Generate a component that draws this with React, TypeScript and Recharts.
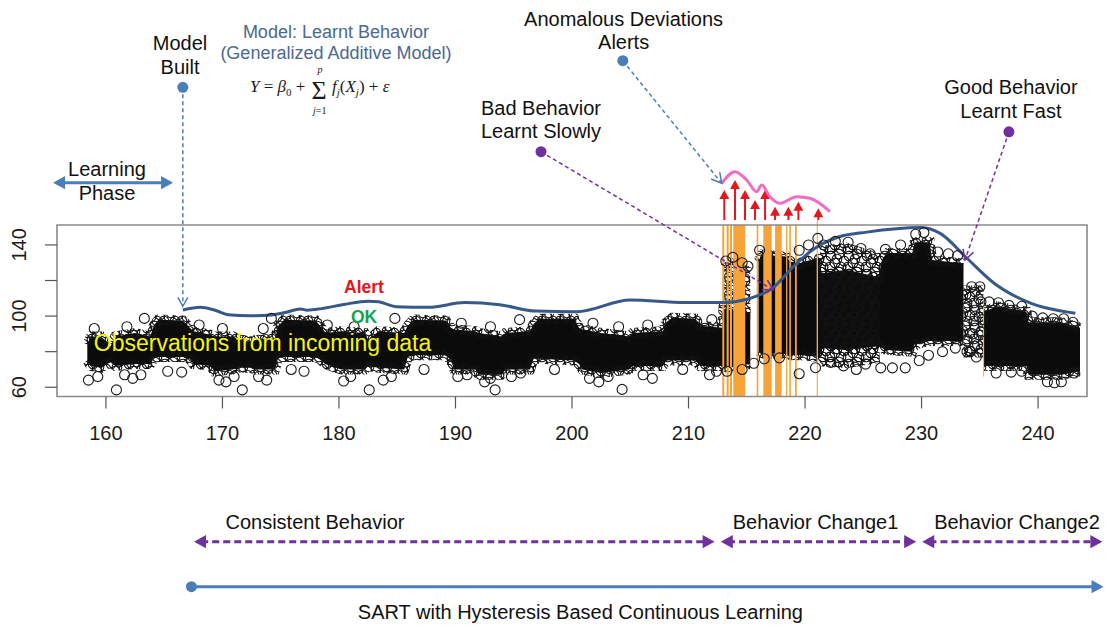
import React from 'react';
import {
  ComposedChart,
  XAxis,
  YAxis,
  Area,
  Line,
  Scatter,
  ReferenceArea,
  ReferenceLine,
  ReferenceDot,
  Curve,
} from 'recharts';

const SANS = '"Liberation Sans", Arial, sans-serif';
const SERIF = '"Liberation Serif", "DejaVu Serif", serif';
const BLUE = '#4a7ebb';
const PURPLE = '#7030a0';

// axes
const xTicks = [160, 170, 180, 190, 200, 210, 220, 230, 240];
const yTicks = [60, 80, 100, 120, 140];
const yLabelled = [60, 100, 140];

// dense observation mass, rows of [x, low, high]
const steadyMass = [
  [158.4, 75, 84], [158.7, 72, 88.5], [159.6, 71, 88.5], [160.1, 73, 85], [160.4, 74, 83],
  [160.8, 72, 88.5], [162.5, 73, 90.5], [163.8, 73, 88.5], [164.1, 76, 94.5], [164.5, 77, 98],
  [166.6, 77, 97.5], [167.2, 76, 93.5], [167.5, 73, 91.5], [169.0, 72, 89.5], [169.3, 69, 88.5],
  [170.9, 70, 88.5], [171.2, 71, 87.5], [172.4, 71, 85.5], [172.8, 70, 86.5], [174.5, 70, 87.5],
  [174.8, 77, 94.5], [175.3, 77, 98], [178.0, 77, 97.5], [178.5, 75, 93.5], [178.8, 73, 90.5],
  [180.2, 70, 91.5], [182.2, 70, 90.5], [182.5, 72, 86.5], [183.4, 71, 91.5], [185.6, 70, 90.5],
  [185.9, 77, 94.5], [186.4, 78, 98], [189.2, 78, 97.5], [189.6, 75, 93.5], [189.9, 70, 92.5],
  [191.7, 70, 91.5], [192.0, 67, 90.5], [193.9, 67, 88.5], [194.3, 70, 90.5], [196.4, 70, 91.5],
  [196.7, 76, 95.5], [197.2, 76, 98.5], [200.2, 75, 98.5], [200.6, 73, 93.5], [200.9, 70, 92.5],
  [202.5, 68, 90.5], [204.9, 70, 88.5], [205.2, 72, 90.5], [207.8, 72, 91.5], [208.1, 75, 96.5],
  [208.6, 75, 99], [210.6, 75, 98.5], [211.0, 72, 94.5], [212.9, 72, 93.5], [213.0, 71, 104],
  [215.3, 73, 102],
];
const change1Mass = [
  [216.0, 80, 130.5], [216.3, 79, 134.5], [218.4, 79, 133.5], [218.6, 78, 131.5], [219.3, 78, 128.5],
  [219.8, 78, 130.5], [221.3, 77, 132.5], [221.4, 82, 124], [223.5, 81, 126], [226.3, 83, 122],
  [226.6, 82, 131.5], [227.0, 81, 135.5], [229.2, 80, 135.5], [229.4, 84, 141.5], [230.7, 86, 141.5],
  [230.9, 86, 131.5], [233.6, 86, 129.5],
];
const change2Mass = [
  [235.3, 72, 102.5], [236.5, 72, 105.5], [239.0, 72, 102.5], [239.2, 67, 96.5], [242.0, 67, 96.5],
  [243.6, 69, 93.5],
];
// looser clouds of circles
const looseT = [[212.95, 100, 127], [213.8, 100, 130], [215.3, 100, 125]];
const looseW = [[221.3, 74, 137], [223.5, 73, 139], [226.4, 76, 133]];
const looseAA = [[233.6, 79, 115], [235.3, 79, 115]];

// single circles around the mass
const strayPoints = [
  [160.9, 58.5], [171.7, 58.5], [182.6, 58.5], [193.4, 58.5], [204.3, 58.8],
  [158.5, 64], [159.3, 66], [161.6, 67], [162.3, 65], [163.0, 67], [165.3, 69], [166.5, 68.5],
  [169.7, 64], [170.3, 63], [171.0, 66], [173.1, 66], [173.8, 64], [175.9, 70], [177.0, 69],
  [180.4, 63.5], [181.0, 66], [183.8, 64], [184.5, 66], [187.3, 70], [190.2, 66], [191.0, 67],
  [192.5, 63], [193.0, 65], [194.8, 66], [195.6, 68], [198.5, 70], [201.5, 65], [202.3, 63],
  [203.1, 66], [206.1, 67], [206.9, 65], [209.5, 70], [211.8, 67], [212.4, 69],
  [159.0, 93], [161.8, 94], [163.3, 98.7], [168.0, 95], [170.0, 93], [173.5, 93], [174.2, 98.7],
  [179.0, 95], [181.3, 94], [184.8, 98.7], [190.5, 96], [193.0, 94], [195.5, 98], [201.8, 96],
  [204.0, 94], [206.5, 95], [212.0, 98],
  [213.2, 131], [213.8, 133], [214.6, 130], [215.1, 128], [216.1, 137], [219.5, 137], [220.3, 140],
  [221.1, 143.7], [221.6, 140], [222.6, 142], [223.7, 141.5], [224.8, 138], [225.6, 135],
  [226.9, 137.5], [228.2, 140], [229.5, 146], [230.2, 147], [231.4, 136], [232.3, 135], [233.1, 134],
  [213.3, 69], [214.6, 70], [215.6, 73.5], [216.5, 76], [217.8, 76.5], [219.5, 67.6], [220.9, 71],
  [222.2, 74], [223.3, 72], [224.4, 70], [225.2, 73], [226.5, 70.9], [227.5, 70.9], [228.6, 70.9],
  [229.8, 75], [230.6, 78], [231.8, 80], [232.9, 82], [233.9, 80], [234.7, 77], [236.4, 68],
  [237.7, 68.5], [238.6, 69], [240.8, 63.1], [241.4, 62.5], [242.0, 63.1], [243.1, 68],
  [233.8, 112], [234.3, 116.5], [235.0, 116.5], [233.9, 105], [234.6, 100], [235.1, 108],
  [233.8, 95], [234.4, 90], [235.2, 98], [233.9, 86], [234.8, 84], [235.1, 91], [234.2, 80],
  [235.8, 108], [236.6, 107.5], [237.5, 106], [238.6, 105.5], [239.5, 100], [240.4, 99],
  [241.3, 98.5], [242.2, 98.5], [243.0, 96.5],
];

// fitted model (GAM) curve
const modelX = [
  166.6, 168.1, 169.3, 170.5, 172.4, 174.2, 175.5, 176.7, 177.3, 178.5, 180.4, 182.5, 183.4, 184.9,
  187.7, 190.8, 193.8, 196.9, 200.4, 205.0, 209.7, 212.9, 215.3, 217.2, 219.0, 220.6, 222.8, 225.3,
  230.0, 231.6, 233.9, 236.2, 239.3, 243.2,
];
const modelY = [
  103.4, 104.9, 103.4, 100.8, 100.2, 100.6, 102.2, 104.0, 103.3, 104.2, 106.5, 108.4, 108.0, 105.3,
  104.9, 107.6, 106.4, 102.8, 102.4, 109.0, 107.6, 107.6, 110.0, 115.6, 127.8, 137.0, 144.3, 147.2,
  149.8, 146.5, 132.5, 118.6, 107.4, 101.6,
];

// anomalous deviations
const alertBands = [
  [212.9, 213.07], [213.27, 213.45], [213.56, 213.73], [213.84, 214.87], [215.85, 215.99],
  [216.42, 217.14], [217.43, 218.0], [218.37, 218.48], [218.65, 218.79], [219.14, 219.29],
];
const alertArrowX = [213.07, 213.99, 214.85, 215.71, 216.57, 217.43, 218.57, 219.43, 221.14];
const alertArrowTop = [170.9, 176.5, 170.9, 165.3, 170.9, 161.5, 161.5, 164.3, 160.6];
const deviationX = [212.85, 213.99, 214.99, 215.85, 216.28, 216.99, 217.85, 219.28, 220.42, 222.14];
const deviationY = [174.6, 181.2, 176.5, 169.9, 173.7, 167.1, 163.4, 167.1, 166.2, 158.7];

// circles of one tile of the "overplotted" texture
const ringTile = [[3, 4], [11, 2], [16, 9], [7, 11], [13, 15], [2, 15], [9, 7]];
const TILE = 18;

const toRange = (rows: number[][]) => rows.map(([x, lo, hi]) => ({ x, range: [lo, hi] }));
const strayData = strayPoints.map(([x, y]) => ({ x, y }));
const modelData = modelX.map((x, i) => ({ x, y: modelY[i] }));

type ArrowOpts = {
  color: string;
  width: number;
  dash?: string;
  start?: 'dot' | 'solid';
  end?: 'open' | 'solid';
  head?: number;
};

const arrowShape = (o: ArrowOpts) => (p: any) => {
  const { x1, y1, x2, y2 } = p;
  const h = o.head ?? 10;
  const a = Math.atan2(y2 - y1, x2 - x1);
  const tip = (tx: number, ty: number, ang: number, kind: string) => {
    const bx = tx - h * Math.cos(ang);
    const by = ty - h * Math.sin(ang);
    const w = h * 0.55;
    const pts = `${bx + w * Math.sin(ang)},${by - w * Math.cos(ang)} ${tx},${ty} ${bx - w * Math.sin(ang)},${by + w * Math.cos(ang)}`;
    if (kind === 'open') return <polyline points={pts} fill="none" stroke={o.color} strokeWidth={1.5} />;
    return <polygon points={pts} fill={o.color} />;
  };
  const cut = h * 0.6;
  const sx = o.start === 'solid' ? x1 + cut * Math.cos(a) : x1;
  const sy = o.start === 'solid' ? y1 + cut * Math.sin(a) : y1;
  const ex = o.end === 'solid' ? x2 - cut * Math.cos(a) : x2;
  const ey = o.end === 'solid' ? y2 - cut * Math.sin(a) : y2;
  return (
    <g>
      <line x1={sx} y1={sy} x2={ex} y2={ey} stroke={o.color} strokeWidth={o.width} strokeDasharray={o.dash} />
      {o.start === 'dot' && <circle cx={x1} cy={y1} r={5.5} fill={o.color} />}
      {o.start === 'solid' && tip(x1, y1, a + Math.PI, 'solid')}
      {o.end && tip(x2, y2, a, o.end)}
    </g>
  );
};

type NoteOpts = { size?: number; color?: string; weight?: number; gap?: number };

const noteShape = (lines: string[], o: NoteOpts = {}) => (p: any) => (
  <text
    x={p.cx}
    y={p.cy}
    textAnchor="middle"
    dominantBaseline="central"
    fontFamily={SANS}
    fontSize={o.size ?? 20}
    fontWeight={o.weight ?? 400}
    fill={o.color ?? '#111'}
  >
    {lines.map((l, i) => (
      <tspan key={i} x={p.cx} dy={i === 0 ? 0 : o.gap ?? 23.5}>
        {l}
      </tspan>
    ))}
  </text>
);

// GAM formula as one text, laid out round the summation sign
const formulaShape = (p: any) => {
  const { cx, cy } = p;
  const base = cy + 6;
  const sig = cx + 2;
  return (
    <text fontFamily={SERIF} fill="#1a1a1a" fontSize={17}>
      <tspan x={cx - 68} y={base} fontStyle="italic">Y</tspan>
      <tspan> = </tspan>
      <tspan fontStyle="italic">β</tspan>
      <tspan fontSize={11} dy={4}>0</tspan>
      <tspan dy={-4}> +</tspan>
      <tspan x={sig - 8.5} y={cy + 13} fontSize={26}>Σ</tspan>
      <tspan x={sig - 2.5} y={cy - 13} fontSize={10} fontStyle="italic">p</tspan>
      <tspan x={sig - 7} y={cy + 28} fontSize={10} fontStyle="italic">j</tspan>
      <tspan fontSize={10}>=1</tspan>
      <tspan x={cx + 14} y={base} fontStyle="italic">f</tspan>
      <tspan fontSize={11} dy={4} fontStyle="italic">j</tspan>
      <tspan dy={-4}>(</tspan>
      <tspan fontStyle="italic">X</tspan>
      <tspan fontSize={11} dy={4} fontStyle="italic">j</tspan>
      <tspan dy={-4}>) + </tspan>
      <tspan fontStyle="italic">ε</tspan>
    </text>
  );
};

// pink deviation curve drawn through the scale implied by an anchor segment
const anchor = [{ x: 160, y: 60 }, { x: 240, y: 140 }];
const deviationShape = (p: any) => {
  const kx = (p.x2 - p.x1) / 80;
  const ky = (p.y2 - p.y1) / 80;
  const pts = deviationX.map((x, i) => ({ x: p.x1 + (x - 160) * kx, y: p.y1 + (deviationY[i] - 60) * ky }));
  return <Curve type="monotone" points={pts} stroke="#f06cc6" strokeWidth={3} fill="none" />;
};

const ringShape = (p: any) => (
  <circle cx={p.cx} cy={p.cy} r={5} fill="none" stroke="#1a1a1a" strokeWidth={1.1} />
);

const XTick = (p: any) => (
  <text x={p.x} y={p.y + 24.5} textAnchor="middle" dominantBaseline="central" fontFamily={SANS} fontSize={20} fill="#1b1b1b">
    {p.payload.value}
  </text>
);

const YTick = (p: any) => {
  if (!yLabelled.includes(p.payload.value)) return <g />;
  const lx = p.x - 25.5;
  return (
    <text
      x={lx}
      y={p.y}
      transform={`rotate(-90 ${lx} ${p.y})`}
      textAnchor="middle"
      dominantBaseline="central"
      fontFamily={SANS}
      fontSize={20}
      fill="#1b1b1b"
    >
      {p.payload.value}
    </text>
  );
};

const offsets = [-TILE, 0, TILE];

const App: React.FC = () => (
  <div style={{ position: 'absolute', left: 0, top: 0, width: 1107, height: 626, background: '#fff' }}>
    <ComposedChart width={1107} height={626} margin={{ top: 225, right: 20, bottom: 179.5, left: 0 }}>
      <defs>
        <pattern id="rings" width={TILE} height={TILE} patternUnits="userSpaceOnUse">
          {ringTile.map(([cx, cy], i) =>
            offsets.map((dx) =>
              offsets.map((dy) => (
                <circle key={`${i}-${dx}-${dy}`} cx={cx + dx} cy={cy + dy} r={4.8} fill="none" stroke="#111" strokeWidth={1.1} />
              )),
            ),
          )}
        </pattern>
      </defs>
      <XAxis
        dataKey="x"
        type="number"
        domain={[155.8, 244.2]}
        allowDataOverflow
        ticks={xTicks}
        interval={0}
        tickSize={12}
        tickMargin={0}
        axisLine={false}
        tickLine={{ stroke: '#555', strokeWidth: 1.2 }}
        tick={XTick}
        height={50}
      />
      <YAxis
        type="number"
        domain={[54.8, 151.2]}
        allowDataOverflow
        ticks={yTicks}
        interval={0}
        tickSize={12}
        tickMargin={0}
        axisLine={false}
        tickLine={{ stroke: '#555', strokeWidth: 1.2 }}
        tick={YTick}
        width={57}
      />

      {[steadyMass, change1Mass, change2Mass].map((m, i) => (
        <Area
          key={`mass${i}`}
          data={toRange(m)}
          dataKey="range"
          type="linear"
          fill="#0b0b0b"
          fillOpacity={1}
          stroke="url(#rings)"
          strokeWidth={10}
          dot={false}
          activeDot={false}
          isAnimationActive={false}
        />
      ))}
      {[looseT, looseW, looseAA].map((m, i) => (
        <Area
          key={`loose${i}`}
          data={toRange(m)}
          dataKey="range"
          type="linear"
          fill="url(#rings)"
          fillOpacity={1}
          stroke="url(#rings)"
          strokeWidth={8}
          dot={false}
          activeDot={false}
          isAnimationActive={false}
        />
      ))}
      <Scatter data={strayData} dataKey="y" shape={ringShape} isAnimationActive={false} />

      {alertBands.map(([a, b], i) => (
        <ReferenceArea key={`band${i}`} x1={a} x2={b} y1={54.8} y2={151.2} fill="#f8a33a" fillOpacity={1} stroke="none" ifOverflow="visible" />
      ))}
      <ReferenceArea x1={221.0} x2={221.11} y1={54.8} y2={154} fill="#f6b36a" fillOpacity={1} stroke="none" ifOverflow="visible" />
      <ReferenceArea x1={235.27} x2={235.37} y1={66} y2={112} fill="#f6b36a" fillOpacity={1} stroke="none" ifOverflow="visible" />

      <Line data={modelData} dataKey="y" type="monotone" stroke="#36598a" strokeWidth={3} dot={false} activeDot={false} isAnimationActive={false} />

      {/* plot frame */}
      <ReferenceArea x1={155.8} x2={244.2} y1={54.8} y2={151.2} fill="none" stroke="#8a8a8a" strokeWidth={1.6} ifOverflow="visible" />

      {/* alerts above the plot */}
      {alertArrowX.map((x, i) => (
        <ReferenceLine
          key={`alert${i}`}
          segment={[{ x, y: 154 }, { x, y: alertArrowTop[i] }]}
          ifOverflow="visible"
          shape={arrowShape({ color: '#e5161d', width: 2, end: 'solid', head: 9 })}
        />
      ))}
      <ReferenceLine segment={anchor} ifOverflow="visible" shape={deviationShape} />

      {/* callouts */}
      <ReferenceLine
        segment={[{ x: 155.46, y: 175 }, { x: 165.76, y: 175 }]}
        ifOverflow="visible"
        shape={arrowShape({ color: BLUE, width: 3, start: 'solid', end: 'solid', head: 12 })}
      />
      <ReferenceLine
        segment={[{ x: 166.6, y: 228.6 }, { x: 166.6, y: 105.5 }]}
        ifOverflow="visible"
        shape={arrowShape({ color: BLUE, width: 1.5, dash: '4 3', start: 'dot', end: 'open', head: 9 })}
      />
      <ReferenceLine
        segment={[{ x: 204.36, y: 243.55 }, { x: 212.85, y: 174.64 }]}
        ifOverflow="visible"
        shape={arrowShape({ color: BLUE, width: 1.5, dash: '4 3', start: 'dot', end: 'open', head: 10 })}
      />
      <ReferenceLine
        segment={[{ x: 197.34, y: 192.4 }, { x: 217.27, y: 114.66 }]}
        ifOverflow="visible"
        shape={arrowShape({ color: PURPLE, width: 1.5, dash: '4 3', start: 'dot', end: 'open', head: 10 })}
      />
      <ReferenceLine
        segment={[{ x: 237.5, y: 203.6 }, { x: 233.73, y: 131.5 }]}
        ifOverflow="visible"
        shape={arrowShape({ color: PURPLE, width: 1.5, dash: '4 3', start: 'dot', end: 'open', head: 10 })}
      />

      {/* phases below the plot */}
      {[[167.56, 212.24], [212.77, 229.54], [230.06, 245.52]].map(([a, b], i) => (
        <ReferenceLine
          key={`phase${i}`}
          segment={[{ x: a, y: -26.8 }, { x: b, y: -26.8 }]}
          ifOverflow="visible"
          shape={arrowShape({ color: PURPLE, width: 3, dash: '7 4', start: 'solid', end: 'solid', head: 12 })}
        />
      ))}
      <ReferenceLine
        segment={[{ x: 167.34, y: -52.1 }, { x: 245.62, y: -52.1 }]}
        ifOverflow="visible"
        shape={arrowShape({ color: BLUE, width: 3, start: 'dot', end: 'solid', head: 12 })}
      />

      {/* texts */}
      <ReferenceDot x={166.36} y={253.5} ifOverflow="visible" shape={noteShape(['Model', 'Built'])} />
      <ReferenceDot
        x={179.74}
        y={259.85}
        ifOverflow="visible"
        shape={noteShape(['Model: Learnt Behavior', '(Generalized Additive  Model)'], { size: 18, color: '#4a6891', gap: 21.6 })}
      />
      <ReferenceDot x={178.2} y={229.3} ifOverflow="visible" shape={formulaShape} />
      <ReferenceDot x={160.09} y={182.68} ifOverflow="visible" shape={noteShape(['Learning', 'Phase'], { gap: 24 })} />
      <ReferenceDot x={204.43} y={267.0} ifOverflow="visible" shape={noteShape(['Anomalous Deviations', 'Alerts'])} />
      <ReferenceDot x={197.34} y={216.97} ifOverflow="visible" shape={noteShape(['Bad Behavior', 'Learnt Slowly'])} />
      <ReferenceDot x={237.67} y={228.6} ifOverflow="visible" shape={noteShape(['Good Behavior', 'Learnt Fast'])} />
      <ReferenceDot x={182.15} y={116.2} ifOverflow="visible" shape={noteShape(['Alert'], { size: 17.5, weight: 700, color: '#e8131b' })} />
      <ReferenceDot x={182.15} y={99.3} ifOverflow="visible" shape={noteShape(['OK'], { size: 17.5, weight: 700, color: '#17a04a' })} />
      <ReferenceDot x={173.44} y={84.7} ifOverflow="visible" shape={noteShape(['Observations from incoming data'], { size: 23, color: '#f5f50c' })} />
      <ReferenceDot x={177.94} y={-15.9} ifOverflow="visible" shape={noteShape(['Consistent Behavior'])} />
      <ReferenceDot x={220.9} y={-15.9} ifOverflow="visible" shape={noteShape(['Behavior Change1'])} />
      <ReferenceDot x={238.19} y={-15.9} ifOverflow="visible" shape={noteShape(['Behavior Change2'])} />
      <ReferenceDot x={200.72} y={-66.6} ifOverflow="visible" shape={noteShape(['SART with Hysteresis Based Continuous Learning'])} />
    </ComposedChart>
  </div>
);

export default App;
